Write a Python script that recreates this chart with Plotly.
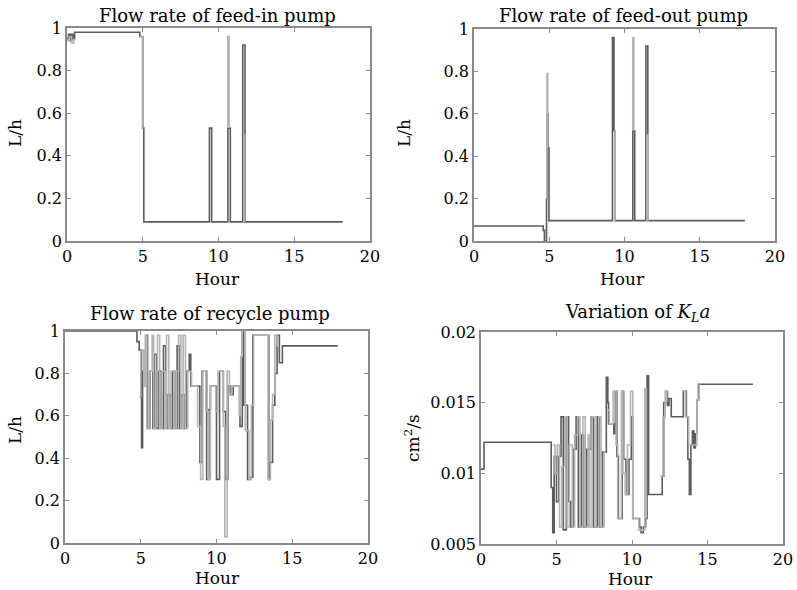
import plotly.graph_objects as go

# ---------------- data ----------------
# Panel 1: flow rate of feed-in pump (step series, L/h)
feedin_hour = [0, 0.1, 0.2, 0.3, 0.4, 0.5, 4.8, 5.0, 5.07, 9.4, 9.55, 10.62, 10.78, 11.6, 11.75, 18.2]
feedin_rate = [0.95, 0.97, 0.94, 0.97, 0.95, 0.98, 0.96, 0.53, 0.09, 0.53, 0.09, 0.53, 0.09, 0.92, 0.09, 0.09]
feedin_hour_b = [4.8, 4.98, 5.04, None, 10.62, 10.62, 10.7, None, 11.66, 11.72, None, 0.0, 0.15, 0.3, 0.45]
feedin_rate_b = [0.96, 0.53, 0.53, None, 0.53, 0.96, 0.53, None, 0.5, 0.09, None, 0.94, 0.96, 0.93, 0.95]

# Panel 2: flow rate of feed-out pump
feedout_hour = [0, 4.6, 4.68, 4.82, 4.86, 4.92, 4.98, 9.2, 9.3, 9.38, 10.55, 10.68, 11.42, 11.55, 18.0]
feedout_rate = [0.071, 0.05, 0.0, 0.2, 0.6, 0.44, 0.096, 0.96, 0.52, 0.096, 0.52, 0.096, 0.92, 0.096, 0.096]
feedout_hour_b = [4.82, 4.85, 4.9, None, 9.3, 9.38, None, 10.55, 10.55, 10.62, None, 11.5, 11.5, 11.56]
feedout_rate_b = [0.2, 0.79, 0.44, None, 0.52, 0.096, None, 0.52, 0.96, 0.52, None, 0.096, 0.5, 0.096]

# Panel 3: flow rate of recycle pump
recycle_hour = [0, 4.75, 4.9, 5.05, 5.12, 5.35, 5.45, 5.6, 5.8, 5.9, 6.05, 6.2, 6.35, 6.5, 6.65,
                6.8, 6.95, 7.1, 7.25, 7.4, 7.55, 7.7, 7.85, 8.0, 8.2, 8.3, 8.9, 9.05, 9.35, 9.5,
                9.6, 10.0, 10.2, 10.45, 10.6, 10.75, 10.95, 11.1, 11.55, 11.7, 11.8, 12.05, 12.2,
                12.4, 13.45, 13.55, 13.7, 13.85, 14.0, 14.15, 14.35, 18.0]
recycle_rate = [1.0, 0.95, 0.91, 0.45, 0.81, 0.98, 0.54, 0.81, 0.54, 0.89, 0.54, 0.81, 0.54, 0.93, 0.54,
                0.70, 0.54, 0.81, 0.54, 0.93, 0.54, 0.70, 0.54, 0.81, 0.89, 0.74, 0.38, 0.81, 0.30, 0.63,
                0.74, 0.30, 0.81, 0.62, 0.30, 0.74, 0.70, 0.74, 0.55, 1.0, 0.65, 0.30, 0.31,
                0.98, 0.30, 0.38, 0.65, 0.80, 0.98, 0.85, 0.93, 0.93]
recycle_hour_b = [4.9, 5.0, 5.2, 5.3, 5.4, 5.55, 5.75, 5.85, 6.0, 6.1, 6.25, 6.4, 6.6, 6.7, 6.85,
                  7.0, 7.2, 7.35, 7.5, 7.65, 7.8, 7.95, 8.1, 8.35, 8.75, 8.95, 9.1, 9.3, 9.45, 9.6,
                  9.95, 10.1, 10.45, 10.55, 10.7, 10.85, 11.0, 11.5, 11.6, 11.7, 11.9, 12.15, 12.3,
                  12.45, 13.3, 13.4, 13.55, 13.7, 13.85, 14.0, 14.1]
recycle_rate_b = [0.69, 0.91, 0.74, 0.98, 0.54, 0.81, 0.98, 0.54, 0.81, 0.98, 0.54, 0.81, 0.54, 0.98, 0.54,
                  0.81, 0.54, 0.81, 0.98, 0.54, 0.98, 0.54, 0.81, 0.74, 0.55, 0.30, 0.81, 0.62, 0.30, 0.74,
                  0.62, 0.81, 0.55, 0.03, 0.81, 0.70, 0.74, 0.60, 0.88, 1.0, 0.53, 0.30, 0.65,
                  0.98, 0.98, 0.30, 0.58, 0.70, 0.98, 0.93, 0.93]

# Panel 4: variation of KLa (cm^2/s)
kla_hour = [0, 0.2, 4.65, 4.75, 4.85, 5.0, 5.15, 5.3, 5.45, 5.65, 5.8, 5.95, 6.1, 6.3, 6.45, 6.65,
            6.8, 7.0, 7.3, 7.45, 7.7, 7.85, 8.05, 8.3, 8.4, 8.45, 8.8, 8.9, 9.0, 9.1, 9.35, 9.45,
            9.6, 9.8, 9.95, 10.05, 10.5, 10.6, 10.75, 10.9, 11.0, 11.1, 12.0, 12.1, 12.25, 12.35,
            12.45, 12.6, 13.4, 13.6, 13.7, 13.8, 13.9, 14.0, 14.1, 14.2, 14.3, 14.4, 18.0]
kla_value = [0.0103, 0.0122, 0.0090, 0.0058, 0.0112, 0.0080, 0.0112, 0.0140, 0.0060, 0.0140, 0.0080,
             0.0062, 0.0117, 0.0140, 0.0062, 0.0127, 0.0062, 0.0117, 0.0140, 0.0062, 0.0140, 0.0062,
             0.0115, 0.0168, 0.0150, 0.0135, 0.0128, 0.0158, 0.0112, 0.0068, 0.0158, 0.0110, 0.0085,
             0.0110, 0.0140, 0.0068, 0.0062, 0.0058, 0.0062, 0.0068, 0.0169, 0.0085, 0.0098, 0.0150,
             0.0158, 0.0148, 0.0153, 0.0140, 0.0158, 0.0140, 0.0110, 0.0085, 0.0120, 0.0130, 0.0118,
             0.0128, 0.0152, 0.0163, 0.0163]
kla_hour_b = [4.75, 4.9, 5.05, 5.2, 5.35, 5.55, 5.7, 5.85, 6.05, 6.2, 6.4, 6.55, 6.75, 6.9, 7.1,
              7.2, 7.35, 7.55, 7.8, 7.95, 8.15, 8.25, None, 8.35, 8.5, 8.75, 8.95, 9.05, 9.3, 9.4,
              9.55, 9.7, 9.9, 10.05, 10.45, 10.85, 10.95, None, 11.9, 12.05, 12.2, 12.3, None,
              13.4, 13.55, 13.75, 14.3, 14.45]
kla_value_b = [0.0120, 0.0100, 0.0120, 0.0062, 0.0105, 0.0140, 0.0062, 0.0120, 0.0062, 0.0127, 0.0140,
               0.0062, 0.0140, 0.0062, 0.0127, 0.0062, 0.0140, 0.0062, 0.0140, 0.0062, 0.0115, 0.0115,
               None, 0.0145, 0.0135, 0.0158, 0.0120, 0.0068, 0.0158, 0.0100, 0.0085, 0.0120, 0.0158,
               0.0068, 0.0060, 0.0160, 0.0068, None, 0.0098, 0.0140, 0.0158, 0.0150, None,
               0.0158, 0.0140, 0.0120, 0.0152, 0.0163]

# titles / labels
panel_titles = ["Flow rate of feed-in pump", "Flow rate of feed-out pump",
                "Flow rate of recycle pump", "Variation of <i>K</i><sub><i>L</i></sub><i>a</i>"]
y_titles = ["L/h", "L/h", "L/h", "cm<sup>2</sup>/s"]
x_title = "Hour"
x_ticks = [0, 5, 10, 15, 20]
flow_ticks = [0, 0.2, 0.4, 0.6, 0.8, 1]
flow_tick_text = ["0", "0.2", "0.4", "0.6", "0.8", "1"]
kla_ticks = [0.005, 0.01, 0.015, 0.02]
kla_tick_text = ["0.005", "0.01", "0.015", "0.02"]

# ---------------- figure ----------------
W, H = 797, 590
DARK = "#5c5c5c"
LIGHT = "#b4b4b4"
FONT = "DejaVu Serif"

fig = go.Figure()

series = [
    (feedin_hour, feedin_rate, feedin_hour_b, feedin_rate_b),
    (feedout_hour, feedout_rate, feedout_hour_b, feedout_rate_b),
    (recycle_hour, recycle_rate, recycle_hour_b, recycle_rate_b),
    (kla_hour, kla_value, kla_hour_b, kla_value_b),
]

for i, (hx, hy, lx, ly) in enumerate(series):
    ax = "" if i == 0 else str(i + 1)
    fig.add_trace(go.Scatter(x=hx, y=hy, mode="lines", line=dict(color=DARK, width=1.6, shape="hv"),
                             xaxis="x" + ax, yaxis="y" + ax, showlegend=False, hoverinfo="skip"))
    fig.add_trace(go.Scatter(x=lx, y=ly, mode="lines", line=dict(color=LIGHT, width=1.6, shape="hv"),
                             connectgaps=False,
                             xaxis="x" + ax, yaxis="y" + ax, showlegend=False, hoverinfo="skip"))

# plot-area boxes in pixels: (left, right, top, bottom)
boxes = [(67, 370, 28, 241), (474, 775, 29, 241), (65, 368, 331, 543), (481, 783, 332, 544)]

axis_common = dict(showline=True, mirror="allticks", linecolor="#8a8a8a", linewidth=1.5,
                   ticks="inside", ticklen=4, tickcolor="#8a8a8a", tickwidth=1,
                   showgrid=False, zeroline=False, automargin=False,
                   tickfont=dict(family=FONT, size=16, color="black"))

layout = dict(width=W, height=H, margin=dict(l=0, r=0, t=0, b=0, autoexpand=False),
              paper_bgcolor="white", plot_bgcolor="white", showlegend=False)

for i, (l, r, t, b) in enumerate(boxes):
    ax = "" if i == 0 else str(i + 1)
    xa = dict(axis_common, domain=[l / W, r / W], range=[0, 20], tickvals=x_ticks,
              anchor="y" + ax)
    if i < 3:
        ya = dict(axis_common, domain=[1 - b / H, 1 - t / H], range=[0, 1], tickvals=flow_ticks,
                  ticktext=flow_tick_text, anchor="x" + ax)
    else:
        ya = dict(axis_common, domain=[1 - b / H, 1 - t / H], range=[0.005, 0.02], tickvals=kla_ticks,
                  ticktext=kla_tick_text, anchor="x" + ax)
    layout["xaxis" + ax] = xa
    layout["yaxis" + ax] = ya

fig.update_layout(**layout)

# annotations: titles, axis titles (pixel positions)
title_pos = [(218, 15), (623, 15), (210, 313), (637, 313)]
xlabel_pos = [(217, 279), (622, 279), (217, 578), (630, 579)]
ylabel_pos = [(15, 133), (404, 133), (15, 430), (412, 438)]

for i in range(4):
    tx, ty = title_pos[i]
    fig.add_annotation(text=panel_titles[i], x=tx / W, y=1 - ty / H, xref="paper", yref="paper",
                       showarrow=False, xanchor="center", yanchor="middle",
                       font=dict(family=FONT, size=18, color="black"))
    lx, ly = xlabel_pos[i]
    fig.add_annotation(text=x_title, x=lx / W, y=1 - ly / H, xref="paper", yref="paper",
                       showarrow=False, xanchor="center", yanchor="middle",
                       font=dict(family=FONT, size=17, color="black"))
    yx, yy = ylabel_pos[i]
    fig.add_annotation(text=y_titles[i], x=yx / W, y=1 - yy / H, xref="paper", yref="paper",
                       showarrow=False, xanchor="center", yanchor="middle", textangle=-90,
                       font=dict(family=FONT, size=17, color="black"))

fig.write_html("out.html", config={"displayModeBar": False},
               post_script="document.body.style.margin='0';document.body.style.padding='0';")
